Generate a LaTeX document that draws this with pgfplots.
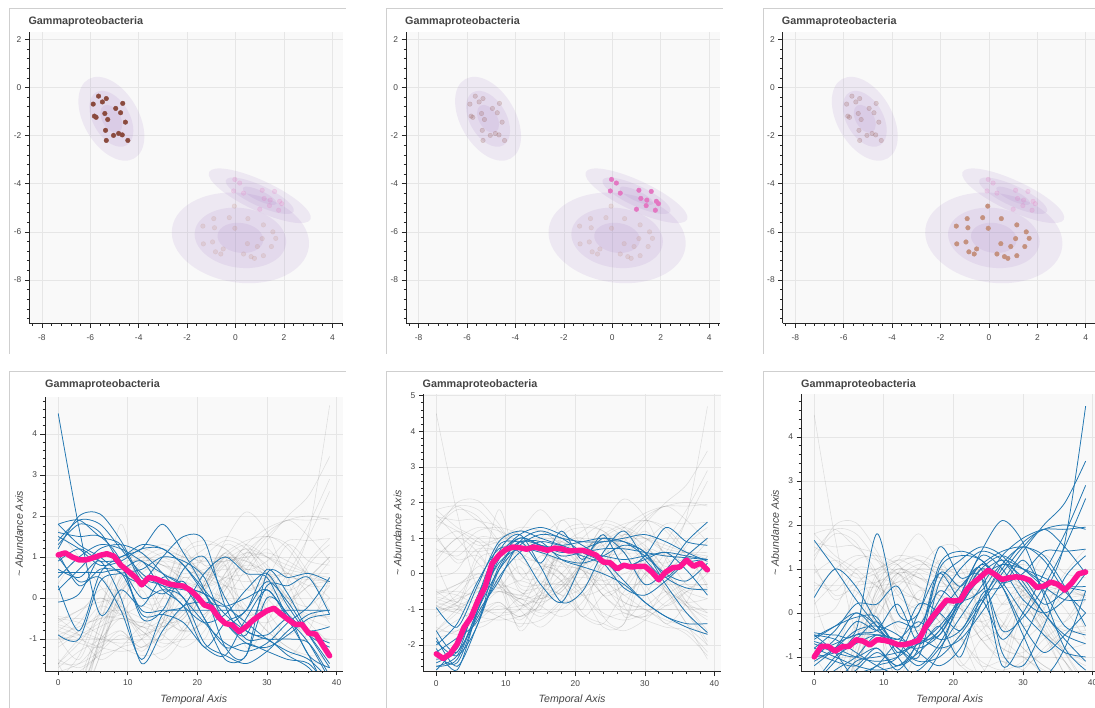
\documentclass[border=0pt]{standalone}
\usepackage{pgfplots}
\pgfplotsset{compat=1.18}
\usepackage{pgfplotstable}
\usepackage{fontspec}
\setmainfont{Liberation Sans}

\definecolor{tabblue}{HTML}{1F77B4}
\definecolor{meanpink}{HTML}{FF1493}
\definecolor{clA}{HTML}{8A4A3E}
\definecolor{clB}{HTML}{E377C2}
\definecolor{clC}{HTML}{C4917F}
\definecolor{ellpurple}{HTML}{9467BD}
\definecolor{panelbg}{HTML}{F9F9F9}
\definecolor{gridgray}{HTML}{E6E6E6}
\definecolor{textgray}{HTML}{444444}
\definecolor{framegray}{HTML}{CFCFCF}

% ---------- embedding coordinates of the three clusters ----------
\pgfplotstableread{
x y
-5.66 -0.36
-5.34 -0.46
-5.50 -0.60
-5.88 -0.69
-4.66 -0.66
-4.95 -0.87
-5.40 -1.08
-4.75 -1.05
-5.83 -1.19
-5.76 -1.24
-5.28 -1.33
-4.55 -1.44
-5.37 -1.78
-5.04 -1.99
-4.83 -1.91
-4.68 -1.97
-5.34 -2.20
-4.45 -2.20
}\ptsA
\pgfplotstableread{
x y
-0.03 -3.82
0.17 -3.97
-0.08 -4.30
0.33 -4.39
1.10 -4.27
1.61 -4.32
1.18 -4.61
1.43 -4.68
1.82 -4.73
1.91 -4.83
1.40 -4.91
1.00 -5.06
1.78 -5.10
}\ptsB
\pgfplotstableread{
x y
-0.05 -4.93
-0.90 -5.45
-0.26 -5.41
0.51 -5.45
-1.35 -5.76
-0.87 -5.83
-0.03 -5.85
1.15 -5.71
1.54 -6.00
1.10 -6.28
1.66 -6.27
-1.33 -6.50
-0.95 -6.42
0.49 -6.49
0.90 -6.61
1.48 -6.61
-0.51 -6.71
-0.83 -6.83
-0.61 -6.92
0.33 -6.92
0.64 -7.03
0.78 -7.10
1.15 -6.99
}\ptsC

% ---------- abundance profiles per cluster ----------
\pgfplotstableread{
t a1 a2 a3 a4 a5 a6 a7 a8 a9 a10 a11 a12 a13 a14 a15 a16 a17 a18
0 4.5 1.8 1.4 1.2 0.62 0.5 1.6 -0.1 1.0 0.3 1.5 1.1 0.9 1.8 0.2 0.7 1.3 -0.9
3 1.7 1.9 1.9 2.0 0.62 1.0 1.5 0.1 0.4 -0.8 1.2 0.3 1.2 1.3 0.7 0.5 1.8 -1.0
6 -0.4 1.5 1.8 2.05 0.62 1.3 1.5 1.0 0.5 0.6 0.8 0.7 0.9 1.0 1.2 0.9 1.6 0.4
9 0.2 1.3 1.2 1.4 0.62 1.2 0.9 1.0 -0.3 1.0 0.9 0.7 0.8 0.6 1.3 0.0 0.8 0.6
12 -0.2 0.4 0.6 0.5 -0.3 0.9 -0.5 1.3 -1.5 1.2 1.2 0.9 -0.4 0.4 1.1 -1.6 0.0 0.7
15 0.5 0.1 0.3 0.3 -0.3 0.6 -0.3 1.2 -0.4 1.8 1.2 0.2 -0.4 1.0 0.6 -0.8 0.2 1.0
18 0.3 0.4 0.2 -0.2 -0.3 0.3 0.7 0.8 -0.2 1.1 0.8 -0.2 -0.6 1.5 0.0 -0.2 0.0 0.9
21 -0.5 -0.5 0.1 -0.6 -0.3 0.1 1.0 0.1 0.6 0.2 0.2 -1.2 -1.2 1.4 -0.6 -0.1 -1.1 0.5
24 -1.5 -1.2 -0.6 -0.4 -0.3 -0.2 0.0 -0.6 1.0 -1.2 -0.4 -0.6 -1.4 -0.2 -1.1 -0.2 -1.4 -0.6
27 -1.4 -1.1 -0.9 0.2 -0.3 -0.6 -0.8 -1.1 0.6 -1.4 -0.8 -0.3 -0.5 -1.0 -1.3 0.0 -1.6 -0.3
30 0.0 -1.3 0.3 0.6 -0.3 -1.0 -0.9 -1.2 0.5 0.6 -1.0 0.7 0.2 -1.0 -1.1 0.2 -1.3 0.4
33 -0.4 -1.5 0.3 -0.2 -0.3 -1.3 -0.5 -0.9 -0.5 0.5 -1.0 0.1 -0.5 -1.4 -0.6 -0.4 -0.8 -0.1
36 -1.4 -1.6 0.5 -0.9 -0.3 -1.5 -0.8 -0.5 -1.4 0.6 -1.1 -0.8 -1.1 -1.7 -0.2 -0.9 -0.4 -0.9
39 -1.7 -2.2 -0.4 -1.2 -0.3 -2.0 -0.7 -0.4 -2.4 0.4 -1.9 -1.1 -2.0 -2.3 0.5 -1.6 -0.3 -1.7
}\clusterA
\pgfplotstableread{
t b1 b2 b3 b4 b5 b6 b7 b8 b9 b10 b11 b12 b13
0 -0.95 -1.6 -2.0 -2.3 -2.6 -1.8 -2.7 -2.2 -2.5 -2.1 -2.4 -1.9 -2.6
3 -1.5 -2.2 -1.4 -2.5 -2.3 -2.6 -2.0 -1.8 -2.1 -2.7 -2.2 -2.3 -2.4
6 -0.3 -0.6 -0.2 -1.1 -1.0 -1.4 -0.6 -1.3 -0.8 -1.0 -1.2 -1.4 -1.0
9 0.9 0.5 0.7 -0.2 0.4 0.1 0.8 0.2 0.3 0.5 -0.1 0.6 0.1
12 1.2 1.1 0.6 0.9 1.0 0.9 0.9 0.9 0.7 1.0 0.6 1.1 0.8
15 1.0 1.3 -0.3 1.2 0.8 0.3 0.9 0.8 0.6 0.8 0.9 0.2 1.1
18 0.8 1.1 -0.8 1.0 0.5 1.2 0.4 0.6 0.4 0.7 0.8 -0.8 1.0
21 0.6 0.8 0.3 0.9 0.6 0.4 0.2 0.7 0.3 0.5 0.9 -0.5 0.6
24 0.5 0.4 1.0 0.9 0.7 1.1 0.0 0.9 0.5 0.3 1.0 0.6 0.3
27 0.4 -0.2 0.6 1.0 0.7 0.2 -0.3 0.9 0.8 0.2 0.9 1.2 -0.4
30 0.5 -0.8 -0.3 1.1 0.6 0.5 -0.8 0.6 0.6 0.4 0.5 0.4 -0.6
33 0.6 -1.2 0.1 0.9 0.5 1.3 -1.2 -0.1 -0.3 0.6 0.0 -0.1 -0.2
36 0.5 -1.5 0.9 0.6 0.45 0.9 -1.4 -0.4 -1.1 0.1 -0.2 0.5 0.3
39 0.4 -1.7 1.45 0.35 0.4 0.8 -1.4 -0.45 -1.65 -0.6 0.3 1.0 0.4
}\clusterB
\pgfplotstableread{
t c1 c2 c3 c4 c5 c6 c7 c8 c9 c10 c11 c12 c13 c14 c15 c16 c17 c18 c19 c20 c21 c22 c23
0 1.65 0.35 -0.45 -0.55 -0.65 -0.9 -1.0 -1.6 -1.2 -0.5 -1.6 -0.8 -1.5 -0.7 -1.6 -0.5 -1.1 -0.6 -1.8 -0.9 -1.0 -1.7 -0.8
3 1.0 1.0 -0.5 -0.3 -0.8 -0.7 -0.9 -1.6 -0.8 -0.6 -1.1 -0.4 -1.7 -0.9 -1.0 -0.9 -0.8 -0.3 -1.6 -1.1 -0.6 -1.3 -1.0
6 0.3 0.6 -0.4 -0.1 -1.0 -0.5 -0.6 -1.3 -0.2 -0.9 -0.5 0.2 -1.4 -1.0 -0.7 -1.5 -0.4 0.0 -1.1 -1.2 0.0 -1.0 -1.2
9 -0.3 -0.2 1.8 -0.1 -1.1 -0.5 -0.2 -0.9 -0.4 -1.2 -0.4 0.2 -1.2 -0.8 -0.5 -1.2 -0.3 -0.3 -1.0 -0.8 -0.4 -0.5 -1.3
12 -0.8 -0.7 0.0 -0.9 -1.0 -0.7 -0.7 -1.2 -0.2 -1.4 0.2 0.6 -0.7 -1.2 -0.6 -1.0 -0.5 -1.0 -0.9 -1.3 -0.6 -0.8 -1.2
15 -1.1 -0.5 0.0 -0.6 -0.6 -0.8 0.2 -0.8 -0.3 -1.3 -0.7 -0.5 -1.0 -0.6 -0.7 0.0 -0.9 -1.5 -0.7 -0.6 -0.2 -1.2 -0.9
18 -1.0 0.3 1.5 -0.8 0.0 -0.5 0.0 1.0 0.5 -0.8 -0.3 -0.5 0.7 1.1 -0.4 0.9 -1.2 -0.9 -0.3 0.9 -0.6 -0.7 -0.4
21 -0.5 1.0 0.8 -0.6 0.6 0.3 -0.4 1.3 0.2 -0.1 -1.0 0.3 1.2 1.4 0.4 0.3 -0.8 0.4 0.3 0.6 -0.4 0.2 0.2
24 0.2 1.4 0.8 0.0 1.1 1.0 0.3 1.2 0.8 0.6 0.4 1.1 1.5 1.2 1.4 0.5 0.2 1.3 0.9 1.0 0.3 1.0 0.8
27 0.9 1.2 -1.2 0.7 1.4 1.3 -0.6 0.7 -0.4 1.3 0.6 0.6 1.3 0.7 2.1 1.1 1.1 1.0 1.2 -0.9 1.0 0.6 1.1
30 1.5 0.6 -0.6 1.4 1.5 1.0 0.0 0.0 -0.1 1.7 1.2 -0.5 0.7 0.9 1.6 0.8 1.5 0.3 1.0 -1.2 1.6 -0.3 1.0
33 1.9 0.0 0.4 2.0 1.3 0.6 0.9 -0.5 0.6 1.9 0.5 -1.4 0.0 1.4 0.4 0.2 1.2 0.0 0.7 -0.3 1.9 -0.9 0.8
36 1.5 -0.6 1.6 2.5 0.6 0.3 1.8 -0.9 1.5 1.9 -0.3 -0.8 -0.5 1.4 -0.8 0.5 0.5 0.3 0.6 0.8 2.0 -0.5 0.6
39 0.9 -1.1 4.7 3.45 -0.3 0.3 2.9 -1.0 2.6 1.95 -0.5 0.5 -0.7 1.45 -1.3 1.0 0.0 0.9 0.6 1.3 1.9 0.0 0.5
}\clusterC

% ---------- cluster mean profiles ----------
\pgfplotstableread{
t mA mB mC
0 1.05 -2.25 -1.00
1 1.10 -2.38 -0.76
2 1.00 -2.25 -0.76
3 0.93 -1.97 -0.87
4 0.93 -1.50 -0.77
5 0.98 -1.22 -0.76
6 1.04 -0.75 -0.61
7 1.08 -0.38 -0.64
8 1.02 0.28 -0.73
9 0.80 0.52 -0.61
10 0.66 0.68 -0.62
11 0.52 0.75 -0.66
12 0.32 0.73 -0.72
13 0.50 0.69 -0.72
14 0.47 0.75 -0.68
15 0.40 0.71 -0.62
16 0.34 0.66 -0.32
17 0.31 0.72 -0.09
18 0.29 0.70 0.10
19 0.19 0.64 0.29
20 0.03 0.65 0.27
21 -0.17 0.66 0.29
22 -0.23 0.60 0.55
23 -0.46 0.52 0.70
24 -0.62 0.33 0.83
25 -0.66 0.31 0.97
26 -0.82 0.14 0.87
27 -0.70 0.24 0.76
28 -0.54 0.19 0.80
29 -0.42 0.21 0.82
30 -0.31 0.21 0.80
31 -0.25 0.05 0.74
32 -0.39 -0.17 0.58
33 -0.52 0.05 0.61
34 -0.64 0.17 0.70
35 -0.64 0.19 0.65
36 -0.86 0.38 0.52
37 -0.88 0.21 0.68
38 -1.15 0.30 0.89
39 -1.41 0.11 0.93
}\means

\pgfplotsset{
  panel/.style={
    scale only axis,
    anchor=south west,
    axis lines=left,
    axis line style={-, black!85, line width=0.7pt},
    tick align=outside,
    tick style={black!85, line width=0.7pt},
    major tick length=4.5pt,
    minor tick length=2.5pt,
    grid=major,
    major grid style={gridgray, line width=0.7pt},
    axis background/.style={fill=panelbg},
    tick label style={font=\fontsize{8.4}{9}\selectfont, text=textgray},
    /pgf/number format/assume math mode=true,
  },
  scatterpanel/.style={
    panel, width=314pt, height=291.6pt,
    xmin=-8.52, xmax=4.45, ymin=-9.8, ymax=2.32,
    xtick={-8,-6,...,4}, ytick={-8,-6,...,2},
    minor xtick={-8.4,-8.0,...,4.4}, minor ytick={-9.6,-9.2,...,2.4},
    xticklabel style={yshift=-3pt},
  },
  linepanel/.style={
    panel, width=297.5pt,
    xmin=-1.9, xmax=40.85,
    xtick={0,10,...,40}, minor xtick={-2,0,...,40},
    minor ytick={-2.8,-2.6,...,5},
    xticklabel style={yshift=-1pt},
    xlabel={Temporal Axis},
    ylabel={\textasciitilde\ Abundance Axis},
    label style={font=\itshape\fontsize{10.6}{12}\selectfont, text=textgray},
  },
  faintpt/.style={only marks, mark=*, mark size=2.3pt, color=#1,
    mark options={fill=#1, draw=#1, opacity=0.2}},
  solidpt/.style={only marks, mark=*, mark size=2.3pt, color=#1,
    mark options={fill=#1, draw=#1}},
  bgline/.style={black, opacity=0.1, line width=0.6pt, smooth, tension=0.5},
  fgline/.style={tabblue, line width=0.75pt, smooth, tension=0.5},
  meanline/.style={meanpink, line width=5.5pt, line join=round, line cap=round},
}
\tikzset{
  ptitle/.style={anchor=base west, inner sep=0pt, text=textgray,
    font=\bfseries\fontsize{10.8}{12}\selectfont},
}

% 1, 2 and 3 sigma ellipses of one cluster: centre x, centre y, angle, radius a, radius b
\newcommand{\sigmaellipse}[5]{%
  \fill[ellpurple, fill opacity=0.11, rotate around={#3:(axis cs:#1,#2)}]
    (axis cs:#1,#2) ellipse [x radius=#4, y radius=#5];
}
\newcommand{\clusterellipses}{%
  \sigmaellipse{-5.13}{-1.3}{-60}{1.89}{1.14}
  \sigmaellipse{-5.13}{-1.3}{-60}{1.26}{0.76}
  \sigmaellipse{-5.13}{-1.3}{-60}{0.63}{0.38}
  \sigmaellipse{1.0}{-4.5}{-25}{2.31}{0.63}
  \sigmaellipse{1.0}{-4.5}{-25}{1.54}{0.42}
  \sigmaellipse{1.0}{-4.5}{-25}{0.77}{0.21}
  \sigmaellipse{0.2}{-6.25}{-8}{2.85}{1.86}
  \sigmaellipse{0.2}{-6.25}{-8}{1.90}{1.24}
  \sigmaellipse{0.2}{-6.25}{-8}{0.95}{0.62}
}
% every profile, drawn faintly behind the highlighted cluster
\newcommand{\allprofiles}{%
  \pgfplotsinvokeforeach{1,...,18}{\addplot[bgline] table[x=t,y=a##1]{\clusterA};}%
  \pgfplotsinvokeforeach{1,...,13}{\addplot[bgline] table[x=t,y=b##1]{\clusterB};}%
  \pgfplotsinvokeforeach{1,...,23}{\addplot[bgline] table[x=t,y=c##1]{\clusterC};}%
}

\begin{document}
\begin{tikzpicture}
\useasboundingbox (0,0) rectangle (1095pt,708pt);
\clip (0,0) rectangle (1095pt,708pt);

% card outlines
\foreach \cx in {9.3,386.3,763.5}{
  \draw[framegray, line width=0.8pt] (\cx pt,354pt) -- (\cx pt,700pt) -- (\cx pt+337pt,700pt);
  \draw[framegray, line width=0.8pt] (\cx pt,0pt) -- (\cx pt,336.3pt) -- (\cx pt+337pt,336.3pt);
}

% ---------------- top row: cluster embeddings ----------------
\begin{axis}[scatterpanel, at={(29.3pt,384.7pt)}]
  \clusterellipses
  \addplot[faintpt=clB] table{\ptsB};
  \addplot[faintpt=clC] table{\ptsC};
  \addplot[solidpt=clA] table{\ptsA};
\end{axis}
\begin{axis}[scatterpanel, at={(406pt,384.7pt)}]
  \clusterellipses
  \addplot[faintpt=clA] table{\ptsA};
  \addplot[faintpt=clC] table{\ptsC};
  \addplot[solidpt=clB] table{\ptsB};
\end{axis}
\begin{axis}[scatterpanel, at={(782.7pt,384.7pt)}]
  \clusterellipses
  \addplot[faintpt=clA] table{\ptsA};
  \addplot[faintpt=clB] table{\ptsB};
  \addplot[solidpt=clC] table{\ptsC};
\end{axis}

% ---------------- bottom row: abundance profiles ----------------
\begin{axis}[linepanel, at={(45pt,37pt)}, height=274.3pt,
    ymin=-1.78, ymax=4.91, ytick={-1,0,...,4},
    x label style={at={(axis description cs:0.5,-0.115)}, anchor=base},
    y label style={at={(axis description cs:-0.074,0.5)}, anchor=base}]
  \allprofiles
  \pgfplotsinvokeforeach{1,...,18}{\addplot[fgline] table[x=t,y=a#1]{\clusterA};}
  \addplot[meanline] table[x=t,y=mA]{\means};
\end{axis}
\begin{axis}[linepanel, at={(423.3pt,36.3pt)}, height=277.4pt,
    xmin=-1.87, xmax=40.92,
    ymin=-2.75, ymax=5.04, ytick={-2,-1,...,5},
    x label style={at={(axis description cs:0.5,-0.112)}, anchor=base},
    y label style={at={(axis description cs:-0.074,0.5)}, anchor=base}]
  \allprofiles
  \pgfplotsinvokeforeach{1,...,13}{\addplot[fgline] table[x=t,y=b#1]{\clusterB};}
  \addplot[meanline] table[x=t,y=mB]{\means};
\end{axis}
\begin{axis}[linepanel, at={(801pt,37pt)}, height=276.7pt,
    ymin=-1.32, ymax=4.97, ytick={-1,0,...,4},
    x label style={at={(axis description cs:0.5,-0.114)}, anchor=base},
    y label style={at={(axis description cs:-0.074,0.5)}, anchor=base}]
  \allprofiles
  \pgfplotsinvokeforeach{1,...,23}{\addplot[fgline] table[x=t,y=c#1]{\clusterC};}
  \addplot[meanline] table[x=t,y=mC]{\means};
\end{axis}

% panel titles
\node[ptitle] at (28.3pt,683.7pt) {Gammaproteobacteria};
\node[ptitle] at (405pt,683.7pt) {Gammaproteobacteria};
\node[ptitle] at (781.7pt,683.7pt) {Gammaproteobacteria};
\node[ptitle] at (45pt,320pt) {Gammaproteobacteria};
\node[ptitle] at (422.5pt,320pt) {Gammaproteobacteria};
\node[ptitle] at (801pt,320pt) {Gammaproteobacteria};
\end{tikzpicture}
\end{document}
